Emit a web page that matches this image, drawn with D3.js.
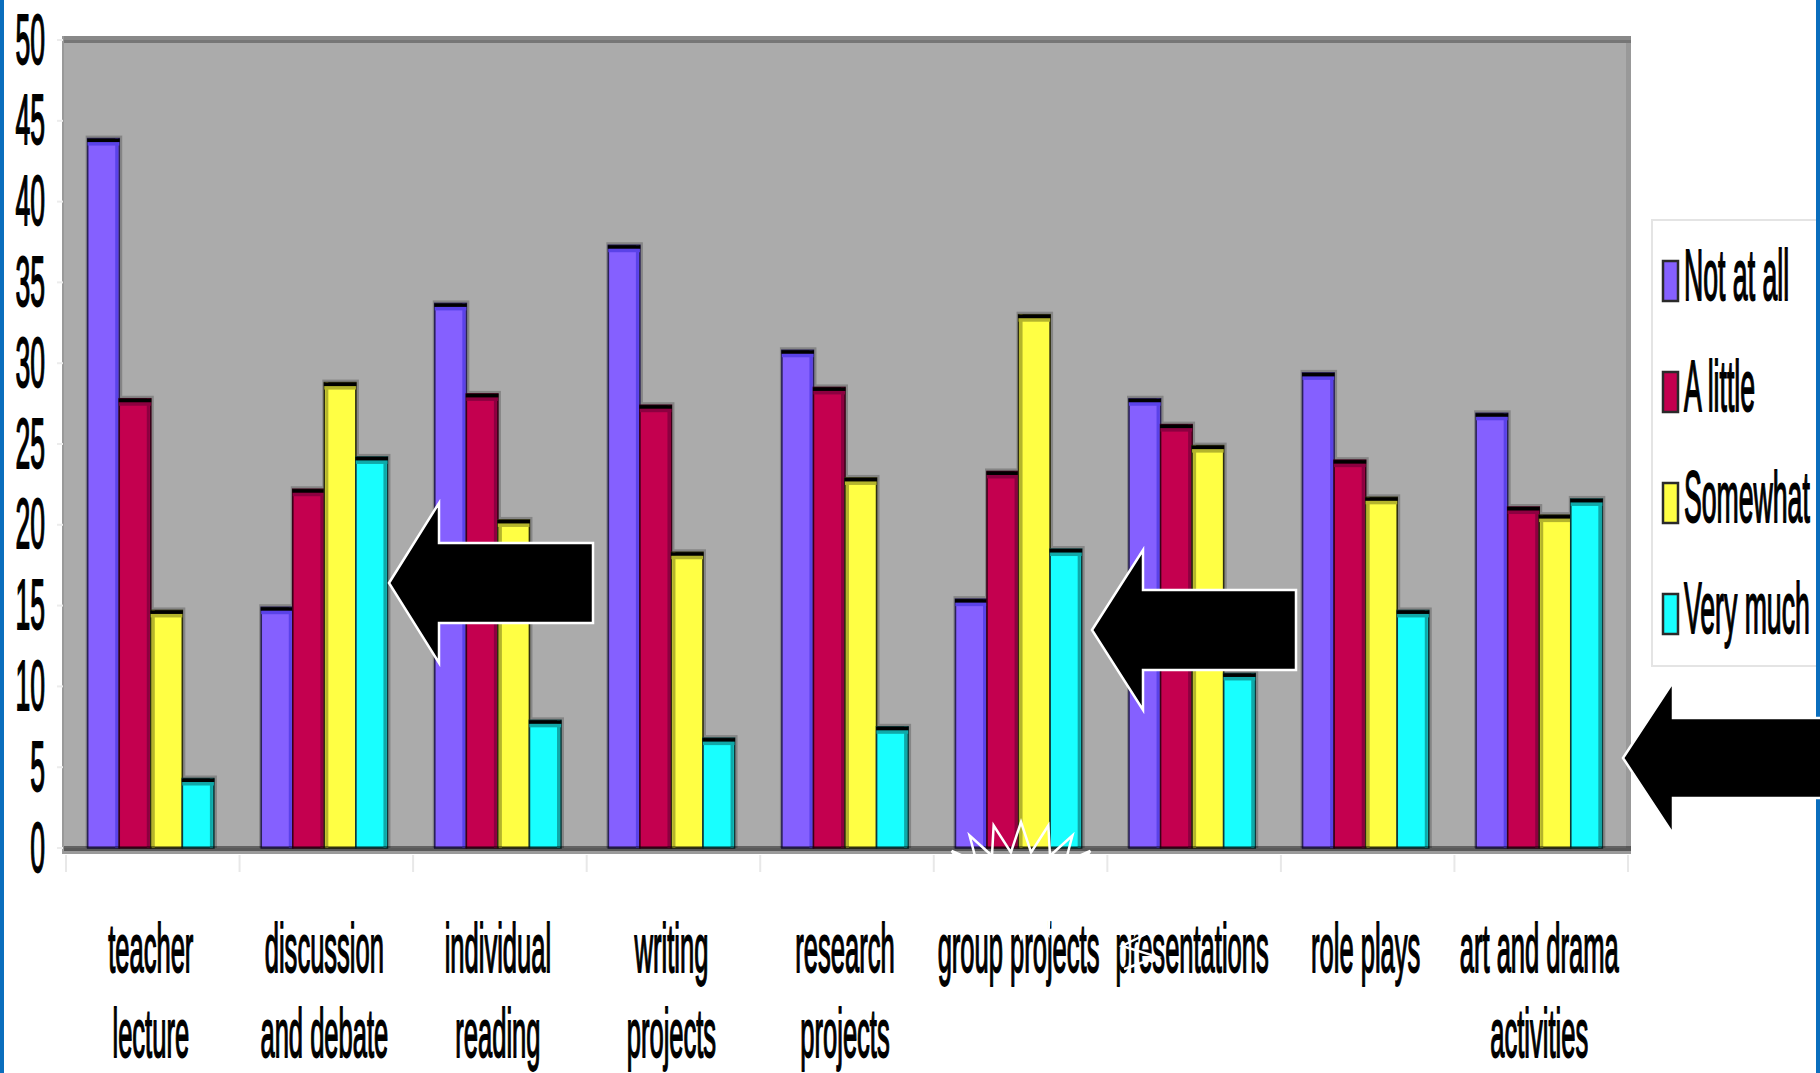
<!DOCTYPE html>
<html>
<head>
<meta charset="utf-8">
<script src="https://cdn.jsdelivr.net/npm/d3@7"></script>
<style>
  html, body { margin: 0; padding: 0; background: #fff; overflow: hidden; }
  svg { display: block; }
  text { font-family: "Liberation Sans", Arial, sans-serif; fill: #000; stroke: #000; stroke-width: 1.8px; }
</style>
</head>
<body>
<script>
// ---------------- DATA ----------------
const categories = [
  "teacher\nlecture",
  "discussion\nand debate",
  "individual\nreading",
  "writing\nprojects",
  "research\nprojects",
  "group projects",
  "presentations",
  "role plays",
  "art and drama\nactivities"
];
const seriesNames = ["Not at all", "A little", "Somewhat", "Very much"];
const notAtAll = [43.9, 14.9, 33.7, 37.3, 30.8, 15.4, 27.8, 29.4, 26.9];
const aLittle  = [27.8, 22.2, 28.1, 27.4, 28.5, 23.3, 26.2, 24.0, 21.1];
const somewhat = [14.7, 28.8, 20.3, 18.3, 22.9, 33.0, 24.9, 21.7, 20.6];
const veryMuch = [4.3, 24.2, 7.9, 6.8, 7.5, 18.5, 10.8, 14.7, 21.6];
const yTicks = [0, 5, 10, 15, 20, 25, 30, 35, 40, 45, 50];

// decorative annotation arrows (tip x, tip y, head length, head half-height, shaft half-height, total length)
const arrows = [
  { tx: 389, ty: 583, hl: 50, hh: 80, sh: 40, len: 204 },
  { tx: 1092, ty: 630, hl: 51, hh: 80, sh: 40, len: 204 },
  { tx: 1623, ty: 758, hl: 50, hh: 76, sh: 40, len: 320 }
];

// ---------------- STYLE ----------------
const colors = ["#8560FF", "#C4004F", "#FFFF44", "#18FFFF"];
const shades = ["#5A42E8", "#8C0040", "#B4B42C", "#10A8A8"];
const edges  = ["#2A2256", "#3A0018", "#2E2E10", "#0E3A3A"];

const W = 1820, H = 1073;
const plotL = 64, plotR = 1626, plotT = 40, plotB = 848;

const svg = d3.select("body").append("svg").attr("width", W).attr("height", H);
svg.append("rect").attr("width", W).attr("height", H).attr("fill", "#fff");

// scales
const x0 = d3.scaleBand().domain(categories).range([plotL, plotR]).padding(0);
const bw = x0.bandwidth();
const x1 = d3.scaleBand().domain(seriesNames).range([bw * 0.75 / 5.5, bw * 4.75 / 5.5]).padding(0);
const y = d3.scaleLinear().domain([0, 50]).range([plotB, plotT]);
const values = [notAtAll, aLittle, somewhat, veryMuch];

// plot area
svg.append("rect").attr("x", plotL - 2).attr("y", plotT - 4).attr("width", plotR - plotL + 7).attr("height", plotB - plotT + 10).attr("fill", "#999");
svg.append("rect").attr("x", plotL).attr("y", plotT - 4).attr("width", plotR - plotL + 5).attr("height", 4).attr("fill", "#898989");
svg.append("rect").attr("x", plotL).attr("y", plotT).attr("width", plotR - plotL + 5).attr("height", 3).attr("fill", "#767676");
svg.append("rect").attr("x", plotL).attr("y", plotT + 3).attr("width", plotR - plotL).attr("height", plotB - plotT - 3).attr("fill", "#ABABAB");

// bars
const rows = categories.map((c, i) => ({ cat: c, vals: seriesNames.map((s, j) => ({ s, j, v: values[j][i] })) }));
const groups = svg.append("g").selectAll("g").data(rows).join("g")
  .attr("transform", d => `translate(${x0(d.cat)},0)`);

// halos
groups.selectAll("rect.halo").data(d => d.vals).join("rect").attr("class", "halo")
  .attr("x", d => x1(d.s) - 2).attr("y", d => y(d.v) - 3)
  .attr("width", x1.bandwidth() + 5).attr("height", d => y(0) - y(d.v) + 3)
  .attr("fill", "#858585");

const bars = groups.selectAll("g.bar").data(d => d.vals).join("g").attr("class", "bar");
bars.append("rect")
  .attr("x", d => x1(d.s)).attr("y", d => y(d.v))
  .attr("width", x1.bandwidth()).attr("height", d => y(0) - y(d.v))
  .attr("fill", d => colors[d.j]).attr("stroke", d => edges[d.j]).attr("stroke-width", 1.6);
bars.append("rect")
  .attr("x", d => d.j === 2 ? x1(d.s) + 1 : x1(d.s) + x1.bandwidth() - 4).attr("y", d => y(d.v))
  .attr("width", 3).attr("height", d => y(0) - y(d.v))
  .attr("fill", d => shades[d.j]);
bars.append("rect")
  .attr("x", d => x1(d.s)).attr("y", d => y(d.v) + 3)
  .attr("width", x1.bandwidth()).attr("height", 4)
  .attr("fill", d => shades[d.j]);
bars.append("rect")
  .attr("x", d => x1(d.s) - 0.5).attr("y", d => y(d.v))
  .attr("width", x1.bandwidth() + 1).attr("height", 3.5)
  .attr("fill", "#000");

// zero band
svg.append("rect").attr("x", plotL).attr("y", plotB - 2).attr("width", plotR - plotL + 5).attr("height", 5).attr("fill", "#000").attr("opacity", 0.42);
svg.append("rect").attr("x", plotL - 2).attr("y", plotB + 3).attr("width", plotR - plotL + 7).attr("height", 3).attr("fill", "#9a9a9a");

// x axis
const xAxis = svg.append("g").attr("transform", `translate(0,${plotB})`)
  .call(d3.axisBottom(x0).tickSize(0));
xAxis.select(".domain").remove();
xAxis.selectAll(".tick text").each(function (d) {
  const t = d3.select(this);
  t.text(null).attr("y", 0).attr("dy", null)
    .attr("transform", "scale(0.37,1)")
    .style("font-size", "69px").attr("text-anchor", "middle").attr("fill", "#000");
  d.split("\n").forEach((line, k) => {
    t.append("tspan").attr("x", 0).attr("y", k === 0 ? 124 : 209).text(line);
  });
});
// category boundary ticks
svg.append("g").selectAll("line").data(categories.concat([null])).join("line")
  .attr("x1", (d, i) => plotL + 2 + i * bw).attr("x2", (d, i) => plotL + 2 + i * bw)
  .attr("y1", plotB + 7).attr("y2", plotB + 24)
  .attr("stroke", "#e8e8e8").attr("stroke-width", 2);

// y axis
const yAxis = svg.append("g").attr("transform", "translate(45,0)")
  .call(d3.axisLeft(y).tickValues(yTicks).tickSize(0).tickFormat(d3.format("d")));
yAxis.select(".domain").remove();
yAxis.selectAll(".tick text")
  .attr("x", 0).attr("dy", null).attr("y", 23)
  .attr("text-anchor", "end").attr("transform", "scale(0.38,1)")
  .style("font-size", "70px").attr("fill", "#000");
svg.append("g").selectAll("line").data(yTicks).join("line")
  .attr("x1", 57).attr("x2", 63).attr("y1", d => y(d)).attr("y2", d => y(d))
  .attr("stroke", "#ececec").attr("stroke-width", 2);

// left blue frame line
svg.append("rect").attr("x", 0).attr("y", 0).attr("width", 4).attr("height", H).attr("fill", "#0A6EBD");

// legend
const lg = svg.append("g");
lg.append("rect").attr("x", 1652).attr("y", 220).attr("width", 170).attr("height", 446)
  .attr("fill", "#fff").attr("stroke", "#e4e4e4").attr("stroke-width", 2);
const li = lg.selectAll("g.li").data(seriesNames).join("g").attr("class", "li")
  .attr("transform", (d, i) => `translate(1662,${281 + i * 111})`);
li.append("rect").attr("x", 1).attr("y", -20).attr("width", 15).attr("height", 40)
  .attr("fill", (d, i) => colors[i]).attr("stroke", "#2a2a2a").attr("stroke-width", 2.5);
li.append("text").attr("transform", "translate(22,19) scale(0.37,1)")
  .style("font-size", "72px").text(d => d);
// right blue frame line (covers legend overflow)
svg.append("rect").attr("x", 1816).attr("y", 0).attr("width", 4).attr("height", H).attr("fill", "#0A6EBD");

// starburst decoration (white outline)
const burst = [];
const nSp = 18, cx = 1021, cy = 880;
for (let k = 0; k < nSp * 2; k++) {
  const a = (k / (nSp * 2)) * 2 * Math.PI;
  const outer = k % 2 === 0;
  const rx = outer ? 80 : 58, ry = outer ? 58 : 28;
  burst.push([cx + rx * Math.sin(a), cy - ry * Math.cos(a)]);
}
svg.append("path").attr("d", d3.line()(burst) + "Z")
  .attr("fill", "none").attr("stroke", "#fff").attr("stroke-width", 2.5);

// white scribble over "presentations"
svg.append("path").attr("d", d3.line()([[1150, 932], [1122, 946], [1158, 957], [1124, 969]]))
  .attr("fill", "none").attr("stroke", "#fff").attr("stroke-width", 2.5);

// arrows
svg.append("g").selectAll("path").data(arrows).join("path")
  .attr("d", a => d3.line()([
    [a.tx, a.ty],
    [a.tx + a.hl, a.ty - a.hh],
    [a.tx + a.hl, a.ty - a.sh],
    [a.tx + a.len, a.ty - a.sh],
    [a.tx + a.len, a.ty + a.sh],
    [a.tx + a.hl, a.ty + a.sh],
    [a.tx + a.hl, a.ty + a.hh]
  ]) + "Z")
  .attr("fill", "#000").attr("stroke", "#fff").attr("stroke-width", 2.5).attr("stroke-linejoin", "miter");
</script>
</body>
</html>
